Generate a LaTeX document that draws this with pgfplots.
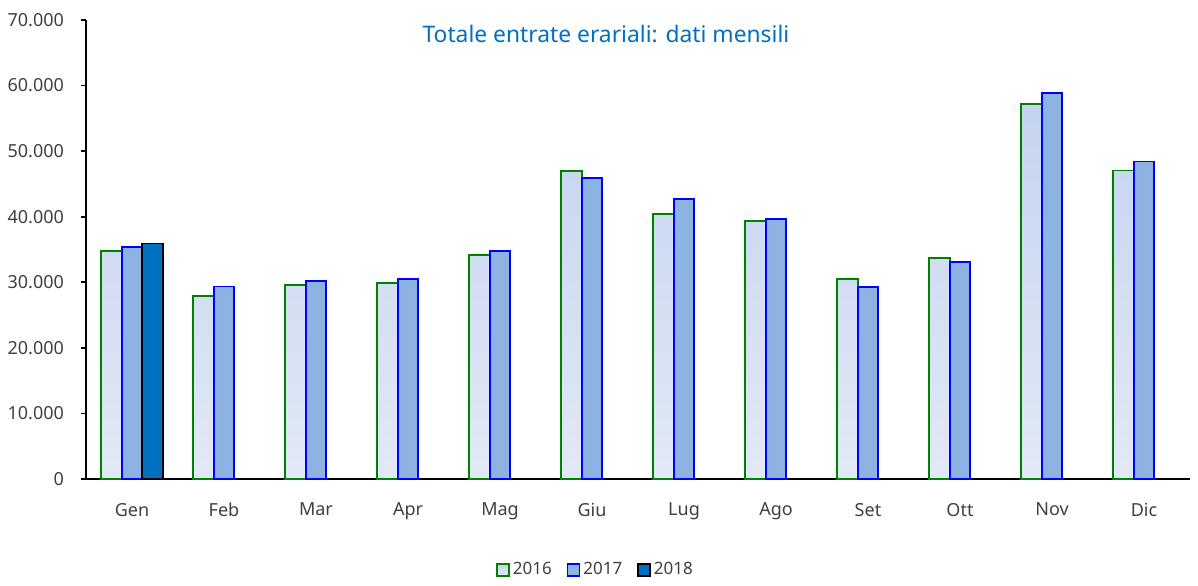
\documentclass[border=0pt]{standalone}
\usepackage{pgfplots}
\pgfplotsset{compat=1.18}
\usepackage{fontspec}
\setmainfont{Noto Sans}
\definecolor{gtop}{HTML}{C4D3EE}
\definecolor{gbot}{HTML}{E2E9F6}
\definecolor{gedge}{HTML}{008000}
\definecolor{bfill}{HTML}{8DB3E2}
\definecolor{bedge}{HTML}{0000FF}
\definecolor{dfill}{HTML}{0070C0}
\definecolor{ttl}{HTML}{0070C0}
\definecolor{lbl}{HTML}{404040}
\begin{document}
\begin{tikzpicture}
\useasboundingbox (-43pt,-53pt) rectangle (556pt,239.5pt);
\begin{axis}[
  at={(0,0)}, anchor=south west,
  scale only axis, width=552pt, height=229.5pt,
  ybar=0pt, bar width=10.25pt,
  xmin=-0.5, xmax=11.5, ymin=0, ymax=70000,
  axis x line*=bottom, axis y line*=left,
  axis line style={line width=1pt, black},
  scaled y ticks=false,
  xtick={0,...,11},
  xticklabels={Gen,Feb,Mar,Apr,Mag,Giu,Lug,Ago,Set,Ott,Nov,Dic},
  major x tick style={draw=none},
  extra x ticks={-0.5,0.5,...,11.5},
  extra x tick labels={},
  extra x tick style={major tick length=2.5pt, tick align=outside, tick style={black, line width=0.8pt}},
  ytick={0,10000,...,70000},
  yticklabels={0,10.000,20.000,30.000,40.000,50.000,60.000,70.000},
  major tick length=2.5pt, tick align=outside,
  y tick style={black, line width=0.8pt},
  ticklabel style={font=\fontsize{9}{10}\selectfont, text=lbl},
  xticklabel style={yshift=-6pt},
  yticklabel style={xshift=-5pt},
  legend style={at={(axis description cs:0.462,-0.198)}, anchor=center, draw=none, fill=none,
    legend columns=3, font=\fontsize{8.5}{10}\selectfont, text=lbl,
    /tikz/every even column/.append style={column sep=6pt},
    /tikz/every odd column/.append style={column sep=0pt},
    /tikz/every node/.append style={inner xsep=1.5pt}},
  legend image code/.code={\draw[#1, line width=0.8pt] (0pt,-3pt) rectangle (6pt,3pt);},
  clip=false,
]
\addplot[draw=gedge, line width=0.8pt, top color=gtop, bottom color=gbot] coordinates {
(0,34800) (1,27950) (2,29590) (3,29890) (4,34160) (5,46970) (6,40410) (7,39350) (8,30500) (9,33700) (10,57190) (11,47020)};
\addplot[draw=bedge, line width=0.8pt, fill=bfill] coordinates {
(0,35350) (1,29330) (2,30200) (3,30500) (4,34770) (5,45900) (6,42700) (7,39650) (8,29280) (9,33090) (10,58910) (11,48450)};
\addplot[draw=black, line width=0.8pt, fill=dfill] coordinates {(0,35900)};
\legend{2016,2017,2018}
\node[text=ttl, font=\fontsize{11.4}{13}\selectfont] at (axis description cs:0.471,0.969) {Totale entrate erariali: dati mensili};
\end{axis}
\end{tikzpicture}
\end{document}
